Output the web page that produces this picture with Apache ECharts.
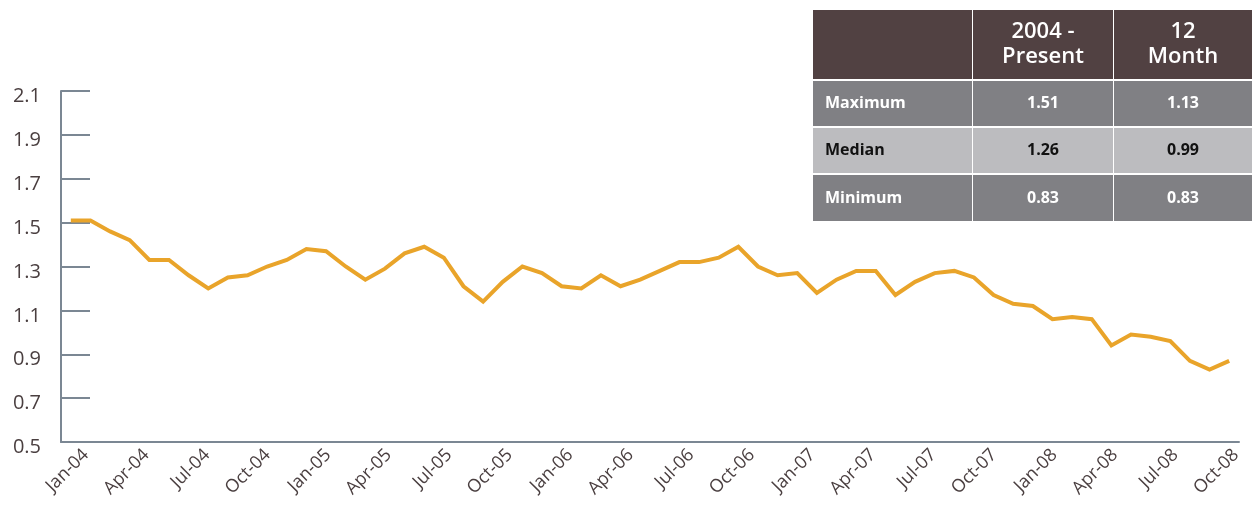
<!DOCTYPE html>
<html>
<head>
<meta charset="utf-8">
<title>Monthly ratio</title>
<style>
    html, body { margin: 0; padding: 0; background: #fff; }
    #main { width: 1252px; height: 516px; }
</style>
</head>
<body>
<div id="main"></div>
<script src="https://cdn.jsdelivr.net/npm/echarts@6/dist/echarts.min.js"></script>
<script>
    // monthly values, Jan-04 .. Dec-08
    var months = [
        'Jan-04', 'Feb-04', 'Mar-04', 'Apr-04', 'May-04', 'Jun-04', 'Jul-04', 'Aug-04', 'Sep-04', 'Oct-04', 'Nov-04', 'Dec-04',
        'Jan-05', 'Feb-05', 'Mar-05', 'Apr-05', 'May-05', 'Jun-05', 'Jul-05', 'Aug-05', 'Sep-05', 'Oct-05', 'Nov-05', 'Dec-05',
        'Jan-06', 'Feb-06', 'Mar-06', 'Apr-06', 'May-06', 'Jun-06', 'Jul-06', 'Aug-06', 'Sep-06', 'Oct-06', 'Nov-06', 'Dec-06',
        'Jan-07', 'Feb-07', 'Mar-07', 'Apr-07', 'May-07', 'Jun-07', 'Jul-07', 'Aug-07', 'Sep-07', 'Oct-07', 'Nov-07', 'Dec-07',
        'Jan-08', 'Feb-08', 'Mar-08', 'Apr-08', 'May-08', 'Jun-08', 'Jul-08', 'Aug-08', 'Sep-08', 'Oct-08', 'Nov-08', 'Dec-08'
    ];
    var values = [
        1.51, 1.51, 1.46, 1.42, 1.33, 1.33, 1.26, 1.20, 1.25, 1.26, 1.30, 1.33,
        1.38, 1.37, 1.30, 1.24, 1.29, 1.36, 1.39, 1.34, 1.21, 1.14, 1.23, 1.30,
        1.27, 1.21, 1.20, 1.26, 1.21, 1.24, 1.28, 1.32, 1.32, 1.34, 1.39, 1.30,
        1.26, 1.27, 1.18, 1.24, 1.28, 1.28, 1.17, 1.23, 1.27, 1.28, 1.25, 1.17,
        1.13, 1.12, 1.06, 1.07, 1.06, 0.94, 0.99, 0.98, 0.96, 0.87, 0.83, 0.87
    ];
    var tickLabels = [
        'Jan-04', 'Apr-04', 'Jul-04', 'Oct-04', 'Jan-05', 'Apr-05', 'Jul-05', 'Oct-05', 'Jan-06', 'Apr-06',
        'Jul-06', 'Oct-06', 'Jan-07', 'Apr-07', 'Jul-07', 'Oct-07', 'Jan-08', 'Apr-08', 'Jul-08', 'Oct-08'
    ];
    var tableHead = ['', '2004 -\nPresent', '12\nMonth'];
    var tableRows = [
        ['Maximum', '1.51', '1.13'],
        ['Median', '1.26', '0.99'],
        ['Minimum', '0.83', '0.83']
    ];

    var font = '"Open Sans", "DejaVu Sans", sans-serif';
    var axisGray = '#7b8793';
    var textBrown = '#4a3f40';

    // summary table in the top right corner
    var colX = [813, 973, 1114], colW = [159, 140, 138];
    var rowY = [10, 81, 128, 175], rowH = [69, 45, 45, 46];
    var rowFill = ['#514142', '#808084', '#bcbcbf', '#808084'];
    var rowInk = ['#ffffff', '#ffffff', '#111111', '#ffffff'];
    var table = [];
    var rows = [tableHead].concat(tableRows);
    for (var r = 0; r < rows.length; r++) {
        for (var c = 0; c < 3; c++) {
            table.push({
                type: 'rect',
                shape: {x: colX[c], y: rowY[r], width: colW[c], height: rowH[r]},
                style: {fill: rowFill[r]}
            });
            var left = (c == 0 && r > 0);
            table.push({
                type: 'text',
                x: left ? colX[c] + 12 : colX[c] + colW[c] / 2,
                y: rowY[r] + rowH[r] / 2,
                style: {
                    text: rows[r][c],
                    fill: rowInk[r],
                    fontFamily: font,
                    fontWeight: r == 0 ? 600 : 700,
                    fontSize: r == 0 ? 22 : 16,
                    lineHeight: 25,
                    textAlign: left ? 'left' : 'center',
                    textVerticalAlign: 'middle'
                }
            });
        }
    }

    var myChart = echarts.init(document.getElementById('main'));
    myChart.setOption({
        animation: false,
        textStyle: {fontFamily: font},
        grid: [
            {left: 61, right: 13, top: 91, bottom: 74, containLabel: false, outerBoundsMode: 'none'},
            // grid that only carries the quarterly date labels
            {left: 86, right: 16, top: 91, bottom: 74, containLabel: false, outerBoundsMode: 'none'}
        ],
        xAxis: [
            {
                type: 'category',
                gridIndex: 0,
                data: months,
                boundaryGap: true,
                axisLine: {lineStyle: {color: axisGray, width: 2}},
                axisTick: {inside: true, length: 7, lineStyle: {color: '#111', width: 2}},
                axisLabel: {show: false},
                splitLine: {show: false}
            },
            {
                type: 'category',
                gridIndex: 1,
                data: tickLabels,
                boundaryGap: false,
                axisLine: {show: false},
                axisTick: {show: false},
                axisLabel: {
                    interval: 0,
                    rotate: 45,
                    margin: 10,
                    fontSize: 18,
                    color: textBrown,
                    fontFamily: font
                },
                splitLine: {show: false}
            }
        ],
        yAxis: [
            {
                type: 'value',
                gridIndex: 0,
                min: 0.5,
                max: 2.1,
                interval: 0.2,
                axisLine: {show: true, lineStyle: {color: axisGray, width: 2}},
                axisTick: {show: true, inside: true, length: 29, lineStyle: {color: axisGray, width: 2}},
                axisLabel: {
                    margin: 20,
                    fontSize: 20,
                    verticalAlign: 'top',
                    lineHeight: 11,
                    color: textBrown,
                    fontFamily: font,
                    formatter: function (v) { return v.toFixed(1); }
                },
                splitLine: {show: false}
            },
            {type: 'value', gridIndex: 1, show: false}
        ],
        series: [
            {
                name: 'Ratio',
                type: 'line',
                xAxisIndex: 0,
                yAxisIndex: 0,
                data: values,
                symbol: 'none',
                lineStyle: {color: '#e9a42a', width: 4, join: 'miter'},
                itemStyle: {color: '#e9a42a'}
            }
        ],
        graphic: table
    });
</script>
</body>
</html>
